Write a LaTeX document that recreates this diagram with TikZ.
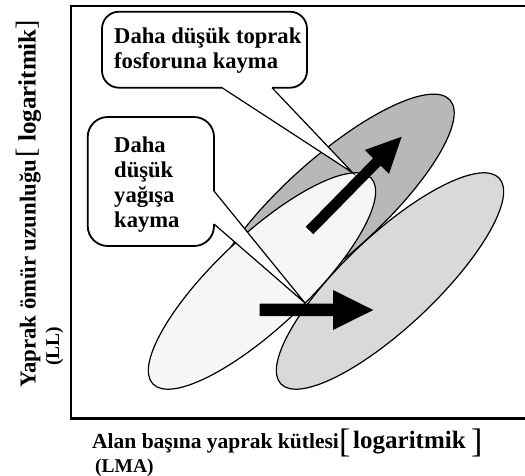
\documentclass[tikz,border=0pt]{standalone}
\usepackage{fontspec}
\setmainfont{Liberation Serif}
\definecolor{dgray}{gray}{0.72}
\definecolor{lgray}{gray}{0.85}
\definecolor{wgray}{gray}{0.965}
\tikzset{
  ell/.style={draw=black, line width=1.2pt},
  bubble/.style={draw=black, line width=1.8pt, fill=white, line join=round},
  bubtxt/.style={anchor=base west, inner sep=0pt, font=\fontsize{22.6}{25}\selectfont\bfseries},
  labtxt/.style={anchor=base west, inner sep=0pt, font=\fontsize{21.5}{24}\selectfont\bfseries},
  logtxt/.style={anchor=base west, inner sep=0pt, font=\fontsize{25}{28}\selectfont\bfseries},
  subtxt/.style={anchor=base west, inner sep=0pt, font=\fontsize{19.5}{22}\selectfont\bfseries},
  brkx/.style={anchor=base west, inner sep=0pt, font=\fontsize{34}{36}\selectfont},
  brky/.style={anchor=base west, inner sep=0pt, font=\fontsize{28}{30}\selectfont},
  bigarrow/.style={fill=black},
}
\begin{document}
\begin{tikzpicture}[x=1pt,y=-1pt]
\useasboundingbox (0,0) rectangle (525,475);
\fill[white] (0,0) rectangle (525,475);
% frame (right side cut off by the picture edge)
\draw[line width=2.6pt] (525,6) -- (71,6) -- (71,418.5) -- (525,418.5);
% ellipses
\draw[ell, fill=dgray, rotate around={42:(331,207)}] (331,207) ellipse [x radius=160, y radius=48];
\draw[ell, fill=lgray, rotate around={43.3:(390,281)}] (390,281) ellipse [x radius=150, y radius=46];
\draw[ell, fill=wgray, rotate around={43.3:(262,281)}] (262,281) ellipse [x radius=150, y radius=46];
% top callout
\draw[bubble] (272,87.7) -- (290,87.7) arc[start angle=90, end angle=0, radius=17]
  -- (307,28.7) arc[start angle=0, end angle=-90, radius=17]
  -- (119,11.7) arc[start angle=-90, end angle=-180, radius=17]
  -- (102,70.7) arc[start angle=180, end angle=90, radius=17]
  -- (222,87.7);
\fill[white] (222,87.7) -- (353,173) -- (272,87.7) -- cycle;
\draw[line width=1.2pt, line join=miter] (222,87.7) -- (353,173) -- (272,87.7);
% left callout
\draw[bubble] (214,224) -- (214,226) arc[start angle=0, end angle=90, radius=20]
  -- (107.7,246) arc[start angle=90, end angle=180, radius=20]
  -- (87.7,137) arc[start angle=180, end angle=270, radius=20]
  -- (194,117) arc[start angle=270, end angle=360, radius=20]
  -- (214,191);
\fill[white] (214,191) -- (305,303) -- (214,224) -- cycle;
\draw[line width=1.2pt, line join=miter] (214,191) -- (305,303) -- (214,224);
% arrows
\fill[bigarrow] (259.5,303.5) -- (333,303.5) -- (333,290) -- (373.3,310) -- (333,330) -- (333,316) -- (259.5,316) -- cycle;
\fill[bigarrow] (305.7,226.8) -- (373.1,158.2) -- (364.8,150.0) -- (401.7,136.7) -- (389.0,173.8) -- (380.7,165.6) -- (313.3,234.2) -- cycle;
% callout texts
\node[bubtxt] (t1) at (114,43.5) {Daha düşük toprak};
\node[bubtxt] (t2) at (114,68.5) {fosforuna kayma};
\node[bubtxt] (l1) at (114,152) {Daha};
\node[bubtxt] (l2) at (114,177) {düşük};
\node[bubtxt] (l3) at (114,202) {yağışa};
\node[bubtxt] (l4) at (114,227) {kayma};
% y label
\node[labtxt, font=\fontsize{22.8}{25}\selectfont\bfseries, rotate=90] (y1) at (35.5,388) {Yaprak ömür uzunluğu};
\node[brky, rotate=90] (y2) at (35.5,158) {[};
\node[logtxt, rotate=90] (y3) at (35.5,142) {logaritmik};
\node[brky, rotate=90] (y4) at (35.5,30) {]};
\node[subtxt, rotate=90] (y5) at (59,366) {(LL)};
% x label
\node[labtxt] (x1) at (92,448) {Alan başına yaprak kütlesi};
\node[brkx] (x2) at (339,452) {[};
\node[logtxt] (x3) at (353,448) {logaritmik};
\node[brkx] (x4) at (471,452) {]};
\node[subtxt] (x5) at (95,472) {(LMA)};
\end{tikzpicture}
\end{document}
